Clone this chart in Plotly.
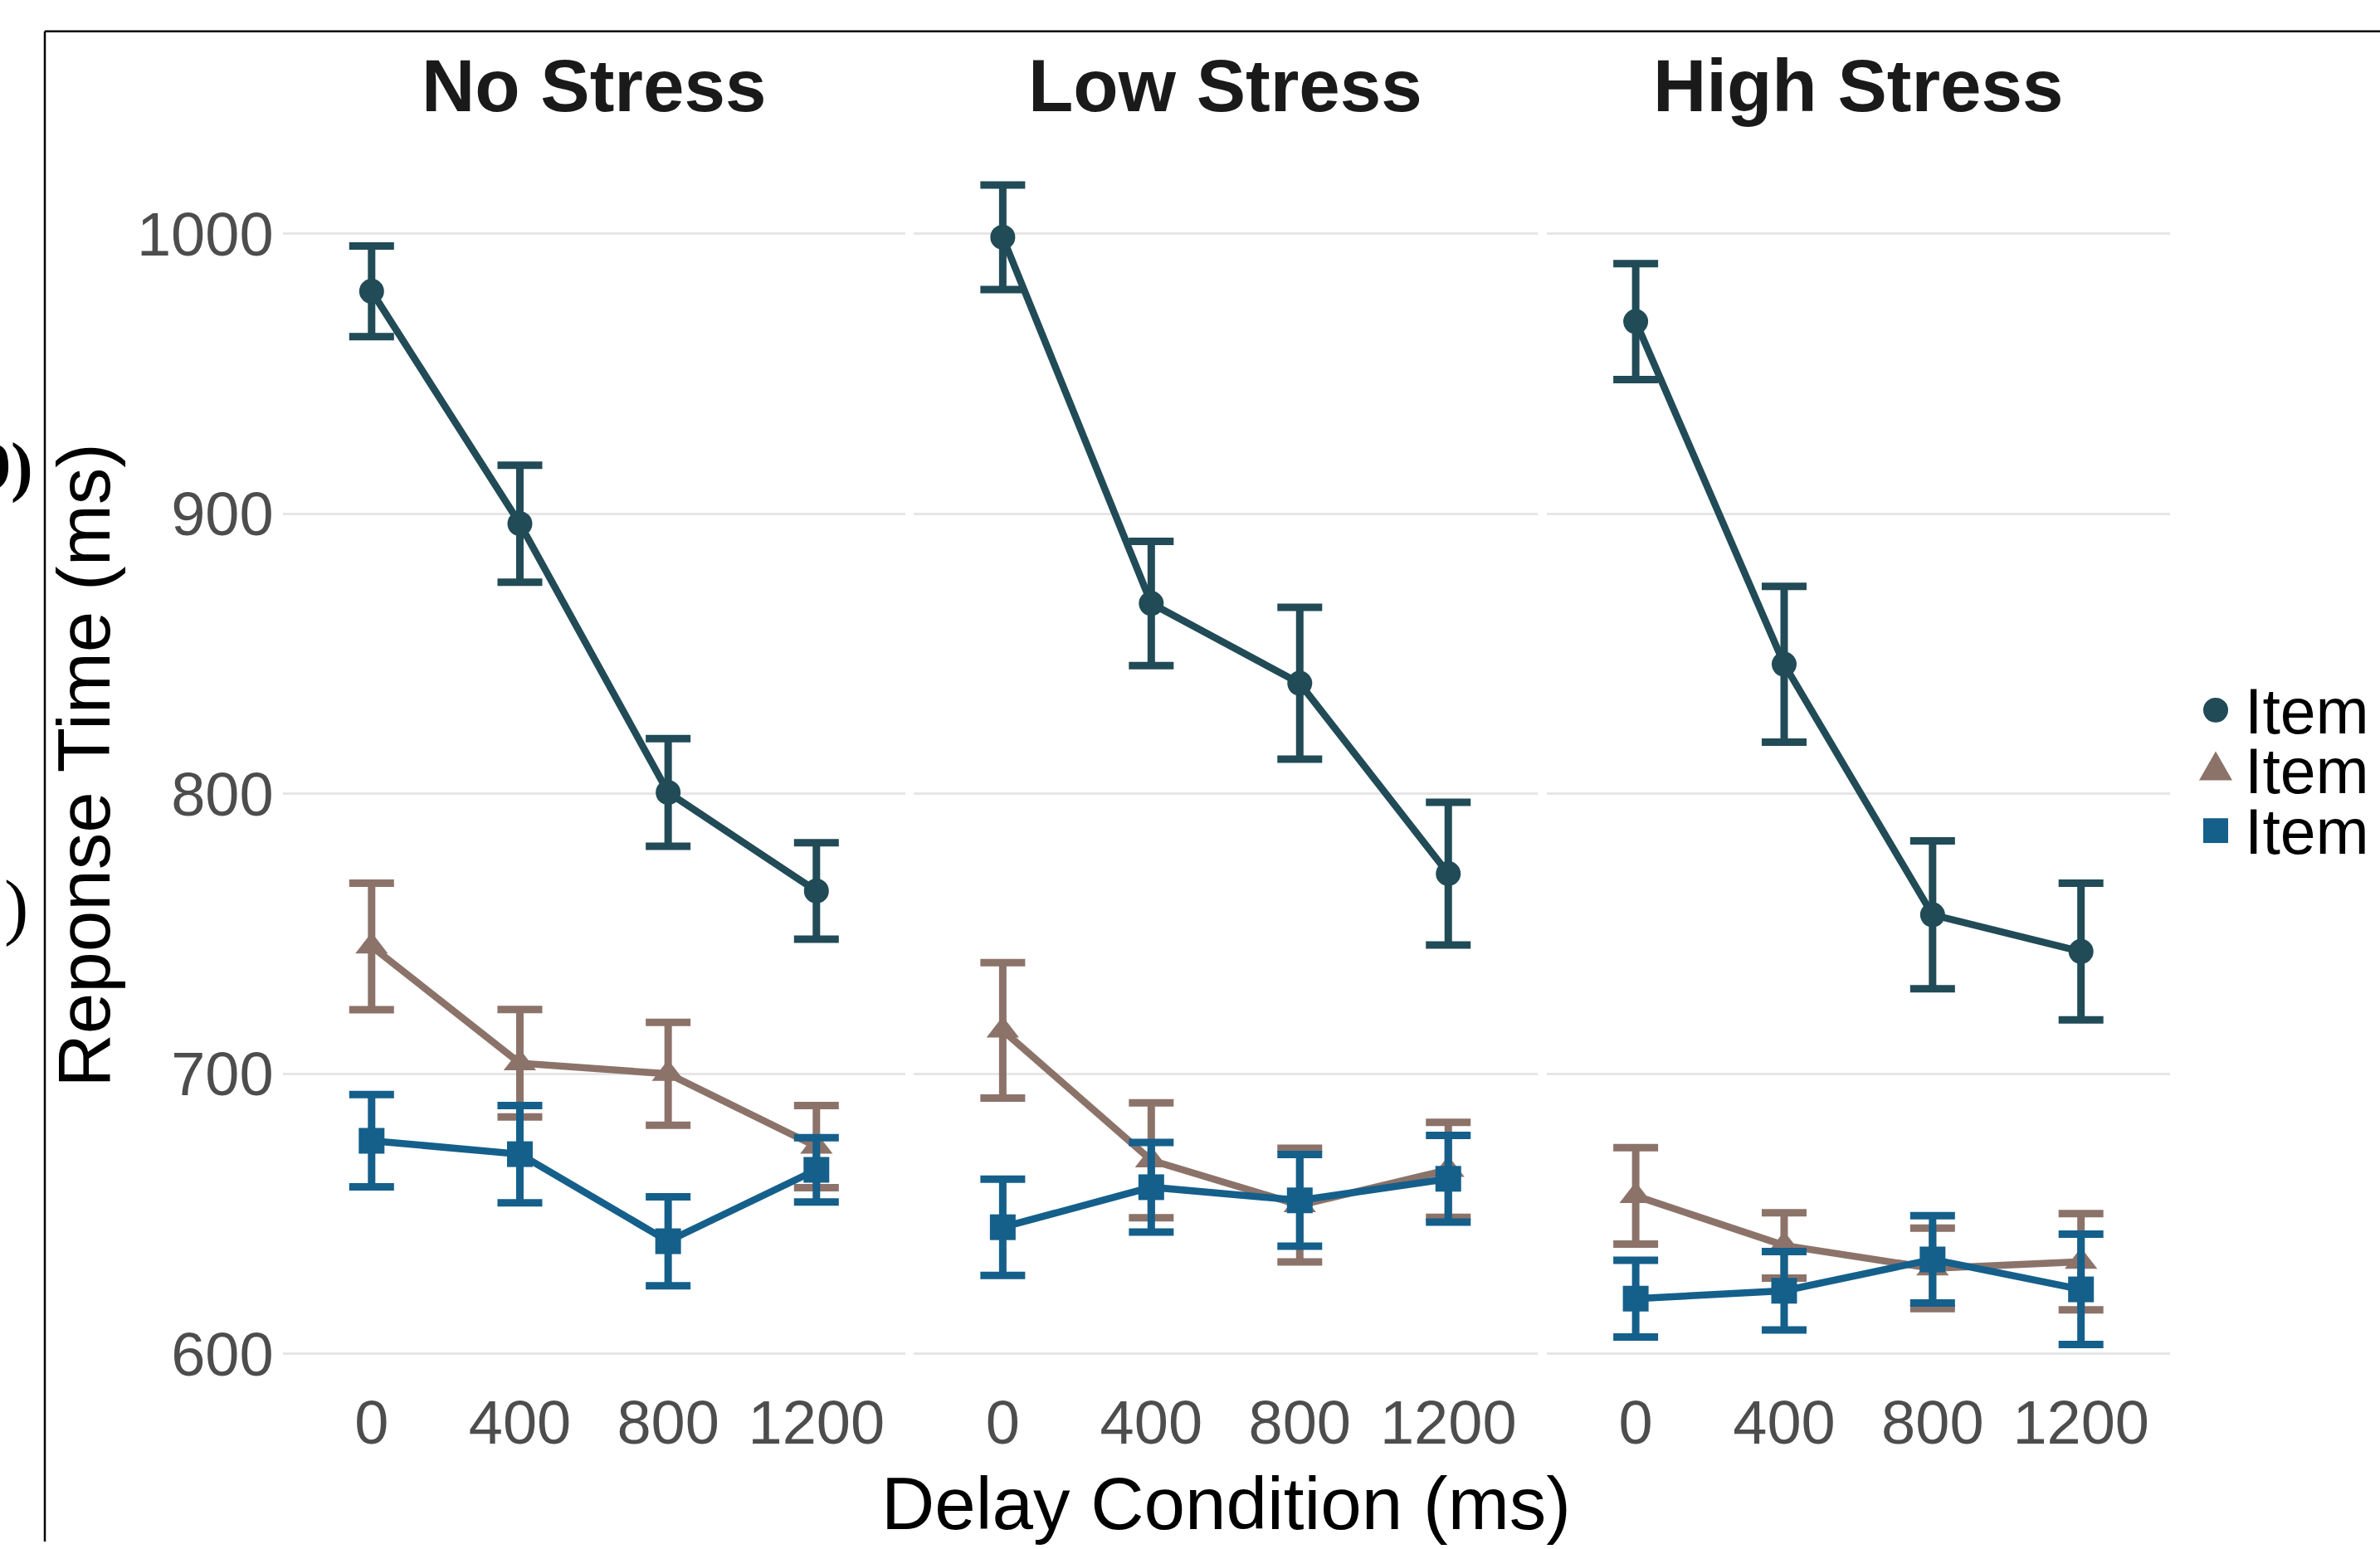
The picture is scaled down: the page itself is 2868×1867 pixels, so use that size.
import plotly.graph_objects as go

# ---------------- data ----------------
delays = ["0", "400", "800", "1200"]
stress_panels = ["No Stress", "Low Stress", "High Stress"]
series_names = ["Item", "Item", "Item"]

# one list per panel (No / Low / High stress)
item1_means = [[979.5, 896.5, 800.5, 765.3],
               [998.8, 868.0, 839.5, 771.5],
               [968.7, 846.3, 756.8, 743.7]]
item1_errs = [[16.2, 20.9, 19.2, 17.2],
              [18.7, 22.2, 27.1, 25.5],
              [20.7, 27.8, 26.4, 24.4]]
item2_means = [[745.5, 703.8, 700.0, 674.0],
               [715.5, 669.1, 653.1, 665.7],
               [656.4, 638.7, 630.5, 632.9]]
item2_errs = [[22.6, 19.2, 18.4, 14.7],
              [24.2, 20.5, 20.3, 17.0],
              [17.2, 11.7, 14.4, 17.2]]
item3_means = [[676.1, 671.3, 640.2, 665.7],
               [645.2, 659.5, 654.8, 662.5],
               [619.7, 622.5, 633.7, 623.0]]
item3_errs = [[16.5, 17.4, 15.9, 11.5],
              [17.2, 16.0, 16.4, 15.5],
              [13.7, 14.0, 15.6, 19.7]]
y_ticks = [600, 700, 800, 900, 1000]

x_title = "Delay Condition (ms)"
y_title = "Reponse Time (ms)"

# ---------------- styling / layout ----------------
W, H = 2868, 1867
FONT = "Liberation Sans, Arial, Helvetica, sans-serif"
SERIF = "Liberation Serif, Times New Roman, serif"
colors = ["#214B56", "#8C736A", "#155F8B"]
symbols = ["circle", "triangle-up", "square"]
msizes = [30, 34, 31]


def fx(px):
    return px / W


def fy(py):
    return 1 - py / H


panel_px = [(340.6, 1091.0), (1101.0, 1852.6), (1863.8, 2615.0)]
top_px, bot_px = 160.0, 1673.0
y600_px, y1000_px = 1639.6, 283.3
ppu = (y600_px - y1000_px) / 400.0
yrange = [600 - (bot_px - y600_px) / ppu, 1000 + (y1000_px - top_px) / ppu]

all_means = [item1_means, item2_means, item3_means]
all_errs = [item1_errs, item2_errs, item3_errs]

fig = go.Figure()

for p in range(3):
    sfx = "" if p == 0 else str(p + 1)
    for s in range(3):
        fig.add_trace(go.Scatter(
            x=delays, y=all_means[s][p],
            name=series_names[s],
            mode="lines+markers",
            line=dict(color=colors[s], width=8.5),
            marker=dict(symbol=symbols[s], size=msizes[s], color=colors[s],
                        line=dict(width=0)),
            error_y=dict(type="data", array=all_errs[s][p], visible=True,
                         color=colors[s], thickness=9, width=27),
            xaxis="x" + sfx, yaxis="y" + sfx,
            showlegend=False,
        ))

layout = dict(
    width=W, height=H,
    margin=dict(l=0, r=0, t=0, b=0),
    paper_bgcolor="white", plot_bgcolor="white",
    font=dict(family=FONT, color="#000000"),
    showlegend=False,
)

for p in range(3):
    sfx = "" if p == 0 else str(p + 1)
    x0, x1 = panel_px[p]
    layout["xaxis" + sfx] = dict(
        domain=[fx(x0), fx(x1)], anchor="y" + sfx,
        type="category", categoryorder="array", categoryarray=delays,
        range=[-0.6, 3.6], showgrid=False, zeroline=False, showline=False,
        ticks="", tickfont=dict(family=FONT, size=74, color="#4D4D4D"),
        fixedrange=True,
    )
    layout["yaxis" + sfx] = dict(
        domain=[fy(bot_px), fy(top_px)], anchor="x" + sfx,
        range=yrange, tickvals=y_ticks, showgrid=True,
        gridcolor="#E6E6E6", gridwidth=2.5, zeroline=False, showline=False,
        ticks="", showticklabels=(p == 0), ticklabelstandoff=10,
        tickfont=dict(family=FONT, size=74, color="#4D4D4D"),
        fixedrange=True,
    )

annotations = []
# panel (strip) titles
for p in range(3):
    x0, x1 = panel_px[p]
    annotations.append(dict(
        text="<b>" + stress_panels[p] + "</b>", xref="paper", yref="paper",
        x=fx((x0 + x1) / 2), y=fy(104), xanchor="center", yanchor="middle",
        showarrow=False, font=dict(family=FONT, size=89, color="#1A1A1A")))

# axis titles
annotations.append(dict(
    text=x_title, xref="paper", yref="paper",
    x=fx((panel_px[0][0] + panel_px[2][1]) / 2), y=fy(1821),
    xanchor="center", yanchor="middle", showarrow=False,
    font=dict(family=FONT, size=89, color="#000000")))
annotations.append(dict(
    text=y_title, xref="paper", yref="paper", textangle=-90,
    x=fx(101), y=fy(927),
    xanchor="center", yanchor="middle", showarrow=False,
    font=dict(family=FONT, size=89, color="#000000")))

# legend labels
legend_rows = [861.6, 933.3, 1006.6]
for s in range(3):
    annotations.append(dict(
        text=series_names[s], xref="paper", yref="paper",
        x=fx(2703), y=fy(legend_rows[s]), xanchor="left", yanchor="middle",
        showarrow=False, font=dict(family=FONT, size=77, color="#000000")))

# fragments of neighbouring content cut by the image edge
annotations.append(dict(
    text="<b>9)</b>", xref="paper", yref="paper",
    x=fx(42), y=fy(565), xanchor="right", yanchor="middle",
    showarrow=False, font=dict(family=SERIF, size=80, color="#000000")))
annotations.append(dict(
    text=")", xref="paper", yref="paper",
    x=fx(36), y=fy(1098), xanchor="right", yanchor="middle",
    showarrow=False, font=dict(family=SERIF, size=88, color="#000000")))

layout["annotations"] = annotations

# legend keys and outer frame lines
shapes = [
    dict(type="circle", xref="paper", yref="paper",
         x0=fx(2655), x1=fx(2685), y0=fy(875), y1=fy(845),
         fillcolor=colors[0], line=dict(width=0)),
    dict(type="path", xref="paper", yref="paper",
         path="M {:.5f},{:.5f} L {:.5f},{:.5f} L {:.5f},{:.5f} Z".format(
             fx(2650), fy(945), fx(2690), fy(945), fx(2670), fy(910)),
         fillcolor=colors[1], line=dict(width=0)),
    dict(type="rect", xref="paper", yref="paper",
         x0=fx(2655), x1=fx(2685), y0=fy(1021), y1=fy(991),
         fillcolor=colors[2], line=dict(width=0)),
    dict(type="line", xref="paper", yref="paper",
         x0=fx(54), x1=1.0, y0=fy(38), y1=fy(38),
         line=dict(color="#000000", width=2.5)),
    dict(type="line", xref="paper", yref="paper",
         x0=fx(54), x1=fx(54), y0=fy(38), y1=0.0,
         line=dict(color="#000000", width=2.5)),
]
layout["shapes"] = shapes

fig.update_layout(**layout)
fig.write_html("out.html", config={"displayModeBar": False})
